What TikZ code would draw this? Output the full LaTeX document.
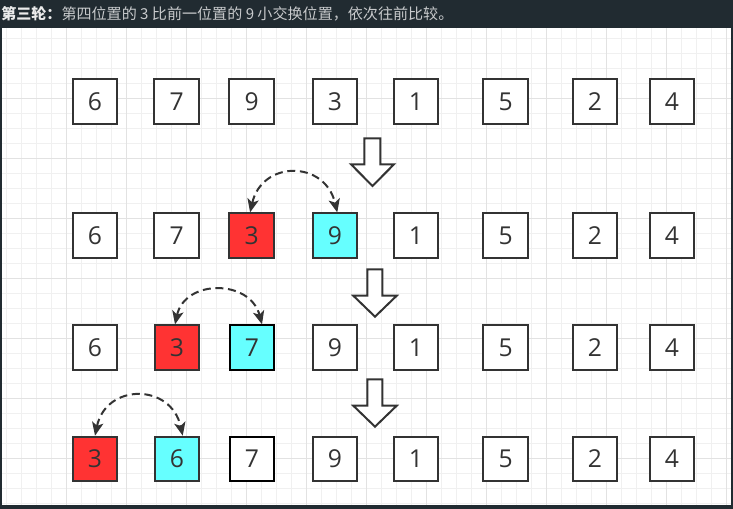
\documentclass[tikz,border=0pt]{standalone}
\usepackage{fontspec}
\setmainfont{Open Sans}
\newfontfamily\cjk{Noto Sans CJK SC}
\usetikzlibrary{arrows.meta}
\definecolor{barc}{HTML}{212B31}
\definecolor{gridminor}{HTML}{F0F0F0}
\definecolor{gridmajor}{HTML}{E2E2E2}
\definecolor{ink}{HTML}{333333}
\definecolor{redfill}{HTML}{FF3333}
\definecolor{cyanfill}{HTML}{66FFFF}
\definecolor{headtext}{HTML}{C8CACC}
\tikzset{
  numbox/.style={draw=ink, line width=1.5pt, fill=white, minimum size=33.5pt, inner sep=0pt,
                 text=ink, font=\fontsize{18.5}{20}\selectfont},
  redbox/.style={numbox, fill=redfill},
  cyanbox/.style={numbox, fill=cyanfill, draw=black},
  blackbox/.style={numbox, draw=black},
  swaparrow/.style={draw=ink, line width=1.5pt, dash pattern=on 6pt off 3.5pt,
                    {Stealth[length=10pt,width=8.5pt,inset=2.5pt]}-{Stealth[length=10pt,width=8.5pt,inset=2.5pt]}},
  blockarrow/.style={draw=ink, fill=white, line width=1.5pt, line join=miter},
  minorline/.style={draw=gridminor, line width=0.75pt},
  majorline/.style={draw=gridmajor, line width=0.75pt}
}
\begin{document}
\begin{tikzpicture}[x=0.75pt,y=-0.75pt]
\useasboundingbox (0,0) rectangle (733,509);
% background
\fill[white] (0,0) rectangle (733,509);
% grid
\foreach \i in {0,...,48} {\draw[minorline] ({6.7+15*\i},28) -- ({6.7+15*\i},505);}
\foreach \i in {0,...,31} {\draw[minorline] (2,{38.3+15*\i}) -- (731,{38.3+15*\i});}
\foreach \i in {0,...,11} {\draw[majorline] ({66.7+60*\i},28) -- ({66.7+60*\i},505);}
\foreach \i in {0,...,6} {\draw[majorline] (2,{98.3+60*\i}) -- (731,{98.3+60*\i});}
% frame
\fill[barc] (0,0) rectangle (733,28);
\fill[barc] (0,0) rectangle (2,509);
\fill[barc] (731,0) rectangle (733,509);
\fill[barc] (0,505) rectangle (733,509);
\node[anchor=west, inner sep=0pt, text=headtext, font=\cjk\fontsize{11.3}{13}\selectfont] (title) at (1,14)
  {{\bfseries\color{white!92!black}第三轮：}第四位置的 3 比前一位置的 9 小交换位置，依次往前比较。};
% row 1
\node[numbox] (a1) at (95,101.5) {6};
\node[numbox] (a2) at (176.7,101.5) {7};
\node[numbox] (a3) at (251.7,101.5) {9};
\node[numbox] (a4) at (335,101.5) {3};
\node[numbox] (a5) at (416,101.5) {1};
\node[numbox] (a6) at (505.7,101.5) {5};
\node[numbox] (a7) at (595,101.5) {2};
\node[numbox] (a8) at (672,101.5) {4};
% row 2
\node[numbox] (b1) at (95,235.7) {6};
\node[numbox] (b2) at (176.7,235.7) {7};
\node[redbox] (b3) at (251.7,235.7) {3};
\node[cyanbox, draw=ink] (b4) at (335,235.7) {9};
\node[numbox] (b5) at (416,235.7) {1};
\node[numbox] (b6) at (505.7,235.7) {5};
\node[numbox] (b7) at (595,235.7) {2};
\node[numbox] (b8) at (672,235.7) {4};
% row 3
\node[numbox] (c1) at (95,347.7) {6};
\node[redbox] (c2) at (177,347.7) {3};
\node[cyanbox] (c3) at (252,347.7) {7};
\node[numbox] (c4) at (335,347.7) {9};
\node[numbox] (c5) at (416,347.7) {1};
\node[numbox] (c6) at (505.7,347.7) {5};
\node[numbox] (c7) at (595,347.7) {2};
\node[numbox] (c8) at (672,347.7) {4};
% row 4
\node[redbox] (d1) at (95,459) {3};
\node[cyanbox, draw=ink] (d2) at (177,459) {6};
\node[blackbox] (d3) at (252,459) {7};
\node[numbox] (d4) at (335,459) {9};
\node[numbox] (d5) at (416,459) {1};
\node[numbox] (d6) at (505.7,459) {5};
\node[numbox] (d7) at (595,459) {2};
\node[numbox] (d8) at (672,459) {4};
% swap arrows
\coordinate (s2a) at ([xshift=-1.2pt]b3.north);
\coordinate (s2b) at ([xshift=1.7pt]b4.north);
\draw[swaparrow] (s2a) .. controls (262,160) and (325,160) .. (s2b);
\coordinate (s3a) at ([xshift=-1.5pt]c2.north);
\coordinate (s3b) at ([xshift=7.5pt]c3.north);
\draw[swaparrow] (s3a) .. controls (185,279) and (250,279) .. (s3b);
\coordinate (s4a) at (d1.north);
\coordinate (s4b) at ([xshift=4.3pt]d2.north);
\draw[swaparrow] (s4a) .. controls (106,383) and (171,383) .. (s4b);
% block arrows
\draw[blockarrow] (364.3,138.3) -- (380.3,138.3) -- (380.3,164.3) -- (394,164.3) -- (372.5,186)
  -- (351,164.3) -- (364.3,164.3) -- cycle;
\draw[blockarrow] (367.3,269.3) -- (382.3,269.3) -- (382.3,295.7) -- (396.7,295.7) -- (375,316.7)
  -- (353.3,295.7) -- (367.3,295.7) -- cycle;
\draw[blockarrow] (367.3,379.3) -- (382.3,379.3) -- (382.3,405.7) -- (396.7,405.7) -- (375,426.7)
  -- (353.3,405.7) -- (367.3,405.7) -- cycle;
\end{tikzpicture}
\end{document}
